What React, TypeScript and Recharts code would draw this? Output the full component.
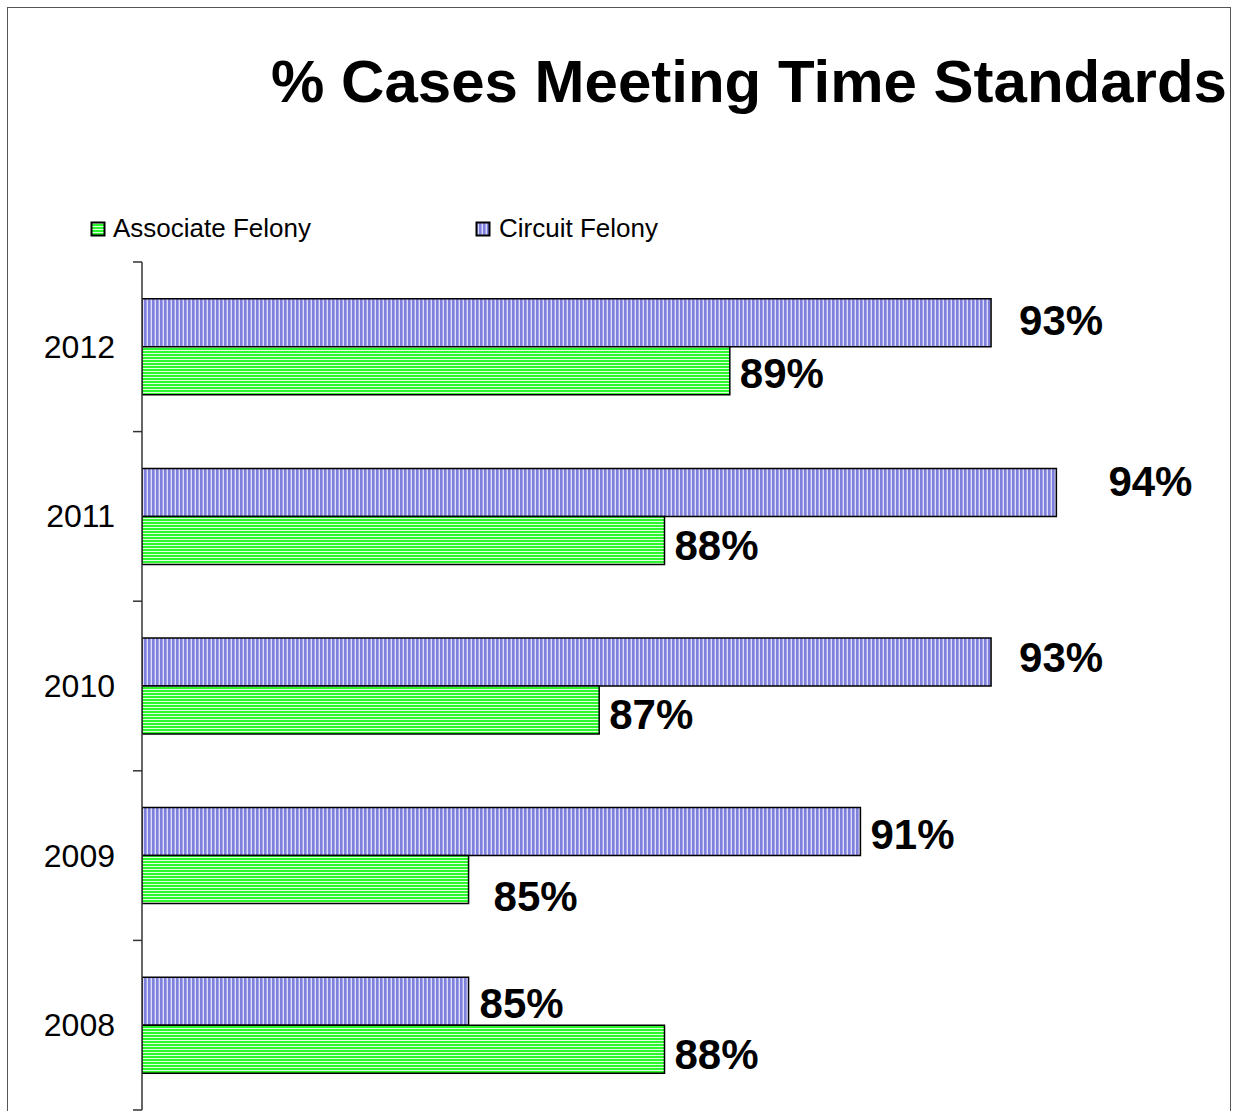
import React from "react";
import { BarChart, Bar, XAxis, YAxis, LabelList } from "recharts";

const years = ["2012", "2011", "2010", "2009", "2008"];
const associateFelony = [89, 88, 87, 85, 88];
const circuitFelony = [93, 94, 93, 91, 85];
const seriesNames = { associate: "Associate Felony", circuit: "Circuit Felony" };

const data = years.map((y, i) => ({
  year: y,
  associate: associateFelony[i],
  circuit: circuitFelony[i],
}));

// label nudges (style only), [dx, dy]
const circuitNudge = [[28, -2], [52, -11], [28, -5], [10, 3], [11, 2]];
const associateNudge = [[10, 3], [10, 5], [10, 4], [25, 17], [10, 5]];

const FONT = '"Liberation Sans", Arial, Helvetica, sans-serif';
const PLOT_TOP = 262;
const PLOT_BOTTOM = 1110;
const CHART_H = 1120;
const BAND = (PLOT_BOTTOM - PLOT_TOP) / years.length;

const makeLabel = (nudge: number[][]) => (props: any) => {
  const { x, y, width, height, value, index } = props;
  const [dx, dy] = nudge[index] || [10, 0];
  return (
    <text
      x={x + width + dx}
      y={y + height / 2 + dy}
      textAnchor="start"
      dominantBaseline="central"
      fontFamily={FONT}
      fontWeight="bold"
      fontSize={42}
      fill="#000"
    >
      {value}%
    </text>
  );
};

const YTick = (props: any) => {
  const { x, y, payload, index } = props;
  return (
    <g>
      <text
        x={x}
        y={y}
        textAnchor="end"
        dominantBaseline="central"
        fontFamily={FONT}
        fontSize={32}
        fill="#000"
      >
        {payload.value}
      </text>
      <line x1={x + 18} x2={x + 27} y1={y - BAND / 2} y2={y - BAND / 2} stroke="#333" strokeWidth={1.5} />
      {index === years.length - 1 && (
        <line x1={x + 18} x2={x + 27} y1={y + BAND / 2} y2={y + BAND / 2} stroke="#333" strokeWidth={1.5} />
      )}
    </g>
  );
};

const Swatch = ({ fill }: { fill: string }) => (
  <svg width={16} height={16} style={{ display: "block" }}>
    <rect x={1.5} y={1.5} width={13} height={13} fill={fill} stroke="#000" strokeWidth={2} />
  </svg>
);

const LegendBlock = () => (
  <div style={{ position: "absolute", left: 0, top: 213, height: 32, width: 1235, fontFamily: FONT, fontSize: 26, color: "#000" }}>
    <div style={{ position: "absolute", left: 90, top: 0, display: "flex", alignItems: "center", gap: 7 }}>
      <Swatch fill="url(#greenStripes)" />
      <span>{seriesNames.associate}</span>
    </div>
    <div style={{ position: "absolute", left: 475, top: 0, display: "flex", alignItems: "center", gap: 8 }}>
      <Swatch fill="url(#blueStripes)" />
      <span>{seriesNames.circuit}</span>
    </div>
  </div>
);

export default function App() {
  return (
    <div style={{ position: "absolute", left: 0, top: 0, width: 1235, height: 1111, overflow: "hidden", background: "#fff" }}>
      <div
        style={{
          position: "absolute",
          left: 7,
          top: 7,
          width: 1222,
          height: 1200,
          borderTop: "1.5px solid #555",
          borderLeft: "1.5px solid #555",
          borderRight: "1.5px solid #555",
        }}
      />
      <div
        style={{
          position: "absolute",
          left: 0,
          width: 1498,
          top: 44,
          textAlign: "center",
          fontFamily: FONT,
          fontWeight: "bold",
          fontSize: 60,
          lineHeight: "76px",
          color: "#000",
          whiteSpace: "nowrap",
        }}
      >
        % Cases Meeting Time Standards
      </div>
      <div style={{ position: "absolute", left: 0, top: 0 }}>
        <BarChart
          width={1235}
          height={CHART_H}
          data={data}
          layout="vertical"
          margin={{ top: PLOT_TOP, right: 48, bottom: CHART_H - PLOT_BOTTOM, left: 0 }}
          barCategoryGap="21.7%"
          barGap={0}
        >
          <defs>
            <pattern id="blueStripes" patternUnits="userSpaceOnUse" width={4} height={4}>
              <rect x={0} y={0} width={4} height={4} fill="#dcdcf7" />
              <rect x={0} y={0} width={3} height={4} fill="#a4a4ea" />
              <rect x={0} y={0} width={2} height={4} fill="#7f7fdc" />
            </pattern>
            <pattern id="greenStripes" patternUnits="userSpaceOnUse" width={4} height={3}>
              <rect x={0} y={0} width={4} height={3} fill="#e2ffe2" />
              <rect x={0} y={0} width={4} height={2} fill="#2cf72c" />
            </pattern>
          </defs>
          <XAxis type="number" domain={[80, 96]} hide allowDataOverflow />
          <YAxis
            type="category"
            dataKey="year"
            width={142}
            axisLine={{ stroke: "#333", strokeWidth: 1.5 }}
            tickLine={false}
            tickSize={0}
            tickMargin={27}
            tick={<YTick />}
            interval={0}
          />
          <Bar dataKey="circuit" name={seriesNames.circuit} fill="url(#blueStripes)" stroke="#000" strokeWidth={1.5} isAnimationActive={false}>
            <LabelList dataKey="circuit" content={makeLabel(circuitNudge)} />
          </Bar>
          <Bar dataKey="associate" name={seriesNames.associate} fill="url(#greenStripes)" stroke="#000" strokeWidth={1.5} isAnimationActive={false}>
            <LabelList dataKey="associate" content={makeLabel(associateNudge)} />
          </Bar>
        </BarChart>
      </div>
      <LegendBlock />
    </div>
  );
}
